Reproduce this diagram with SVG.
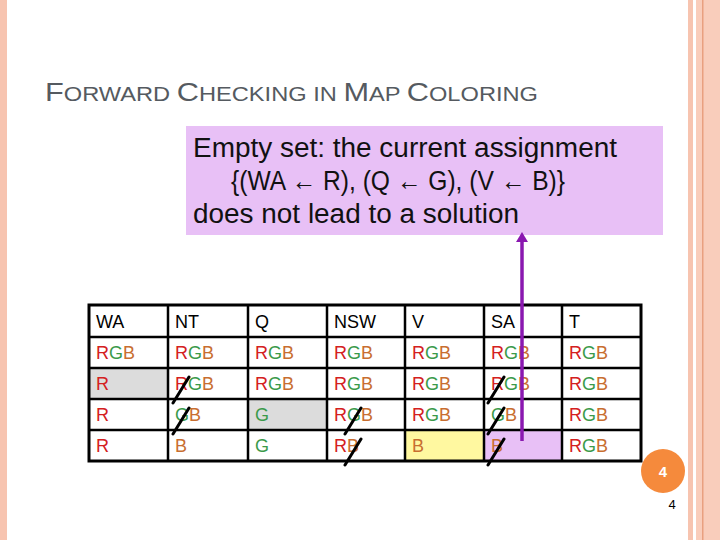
<svg xmlns="http://www.w3.org/2000/svg" width="720" height="540" viewBox="0 0 720 540">
<style>
.t{font-family:"Liberation Sans",Arial,sans-serif;font-size:18px}
.r{fill:#d42020}.g{fill:#3a9a4a}.b{fill:#c86e30}.k{fill:#000}
.s{stroke:#000;stroke-width:3;stroke-linecap:round}
.title{font-family:"Liberation Sans",Arial,sans-serif;fill:#555a60}
</style>
<rect width="720" height="540" fill="#fff"/>
<rect x="0" y="0" width="7" height="540" fill="#f7c4b0"/>
<rect x="688" y="0" width="5" height="540" fill="#f7c4b0"/>
<rect x="696" y="0" width="24" height="540" fill="#f9cdbb"/>
<rect x="702" y="0" width="1.5" height="540" fill="#e9a080"/>
<text class="title" x="45" y="101" font-size="26" textLength="493" lengthAdjust="spacingAndGlyphs">F<tspan font-size="20">ORWARD </tspan>C<tspan font-size="20">HECKING IN </tspan>M<tspan font-size="20">AP </tspan>C<tspan font-size="20">OLORING</tspan></text>
<g id="callout">
<rect x="186" y="126" width="477" height="109" fill="#e8c0f6"/>
<g font-family="Liberation Sans,Arial,sans-serif" font-size="27" fill="#111">
<text x="193" y="157" textLength="424" lengthAdjust="spacingAndGlyphs">Empty set: the current assignment</text>
<text x="231" y="190" textLength="334" lengthAdjust="spacingAndGlyphs">{(WA ← R), (Q ← G), (V ← B)}</text>
<text x="193" y="223" textLength="326" lengthAdjust="spacingAndGlyphs">does not lead to a solution</text>
</g>
</g>
<g id="table">
<rect x="484" y="430" width="78" height="31" fill="#e8c0f6"/>
<rect x="405" y="430" width="79" height="31" fill="#fff8a0"/>
<rect x="89" y="368" width="79" height="31" fill="#dcdcdc"/>
<rect x="248" y="399" width="79" height="31" fill="#dcdcdc"/>
<g stroke="#000" stroke-width="2.5" fill="none">
<rect x="89" y="305" width="552" height="156" stroke-width="3"/>
<path d="M89 337H641M89 368H641M89 399H641M89 430H641M168 305V461M248 305V461M327 305V461M405 305V461M484 305V461M562 305V461"/>
</g>
<g class="t">
<text class="k" y="328"><tspan x="96">WA</tspan><tspan x="175">NT</tspan><tspan x="255">Q</tspan><tspan x="334">NSW</tspan><tspan x="412">V</tspan><tspan x="491">SA</tspan><tspan x="569">T</tspan></text>
<text y="359"><tspan x="96" class="r">R</tspan><tspan class="g">G</tspan><tspan class="b">B</tspan></text>
<text y="359"><tspan x="175" class="r">R</tspan><tspan class="g">G</tspan><tspan class="b">B</tspan></text>
<text y="359"><tspan x="255" class="r">R</tspan><tspan class="g">G</tspan><tspan class="b">B</tspan></text>
<text y="359"><tspan x="334" class="r">R</tspan><tspan class="g">G</tspan><tspan class="b">B</tspan></text>
<text y="359"><tspan x="412" class="r">R</tspan><tspan class="g">G</tspan><tspan class="b">B</tspan></text>
<text y="359"><tspan x="491" class="r">R</tspan><tspan class="g">G</tspan><tspan class="b">B</tspan></text>
<text y="359"><tspan x="569" class="r">R</tspan><tspan class="g">G</tspan><tspan class="b">B</tspan></text>
<text y="390" x="96" class="r">R</text>
<text y="390"><tspan x="175" class="r">R</tspan><tspan class="g">G</tspan><tspan class="b">B</tspan></text>
<text y="390"><tspan x="255" class="r">R</tspan><tspan class="g">G</tspan><tspan class="b">B</tspan></text>
<text y="390"><tspan x="334" class="r">R</tspan><tspan class="g">G</tspan><tspan class="b">B</tspan></text>
<text y="390"><tspan x="412" class="r">R</tspan><tspan class="g">G</tspan><tspan class="b">B</tspan></text>
<text y="390"><tspan x="491" class="r">R</tspan><tspan class="g">G</tspan><tspan class="b">B</tspan></text>
<text y="390"><tspan x="569" class="r">R</tspan><tspan class="g">G</tspan><tspan class="b">B</tspan></text>
<text y="421" x="96" class="r">R</text>
<text y="421"><tspan x="175" class="g">G</tspan><tspan class="b">B</tspan></text>
<text y="421" x="255" class="g">G</text>
<text y="421"><tspan x="334" class="r">R</tspan><tspan class="g">G</tspan><tspan class="b">B</tspan></text>
<text y="421"><tspan x="412" class="r">R</tspan><tspan class="g">G</tspan><tspan class="b">B</tspan></text>
<text y="421"><tspan x="491" class="g">G</tspan><tspan class="b">B</tspan></text>
<text y="421"><tspan x="569" class="r">R</tspan><tspan class="g">G</tspan><tspan class="b">B</tspan></text>
<text y="452" x="96" class="r">R</text>
<text y="452" x="175" class="b">B</text>
<text y="452" x="255" class="g">G</text>
<text y="452"><tspan x="334" class="r">R</tspan><tspan class="b">B</tspan></text>
<text y="452" x="412" class="b">B</text>
<text y="452" x="491" class="b">B</text>
<text y="452"><tspan x="569" class="r">R</tspan><tspan class="g">G</tspan><tspan class="b">B</tspan></text>
</g>
<g class="s">
<path d="M173 403L189 377M173 434L189 408M488 403L504 377M488 434L504 408M345 434L361 408M345 465L361 439M488 465L504 439"/>
</g>
</g>
<g id="connectors">
<path d="M522 441V240" stroke="#8a18b0" stroke-width="3.5"/>
<path d="M516 242L522 232L528 242Z" fill="#8a18b0"/>
</g>
<g id="badge">
<circle cx="663" cy="471" r="22" fill="#f58a3c"/>
<text x="663" y="477" text-anchor="middle" font-family="Liberation Sans,Arial,sans-serif" font-size="15" font-weight="bold" fill="#fff">4</text>
<text x="672" y="509" text-anchor="middle" font-family="Liberation Sans,Arial,sans-serif" font-size="13" fill="#000">4</text>
</g>
</svg>
